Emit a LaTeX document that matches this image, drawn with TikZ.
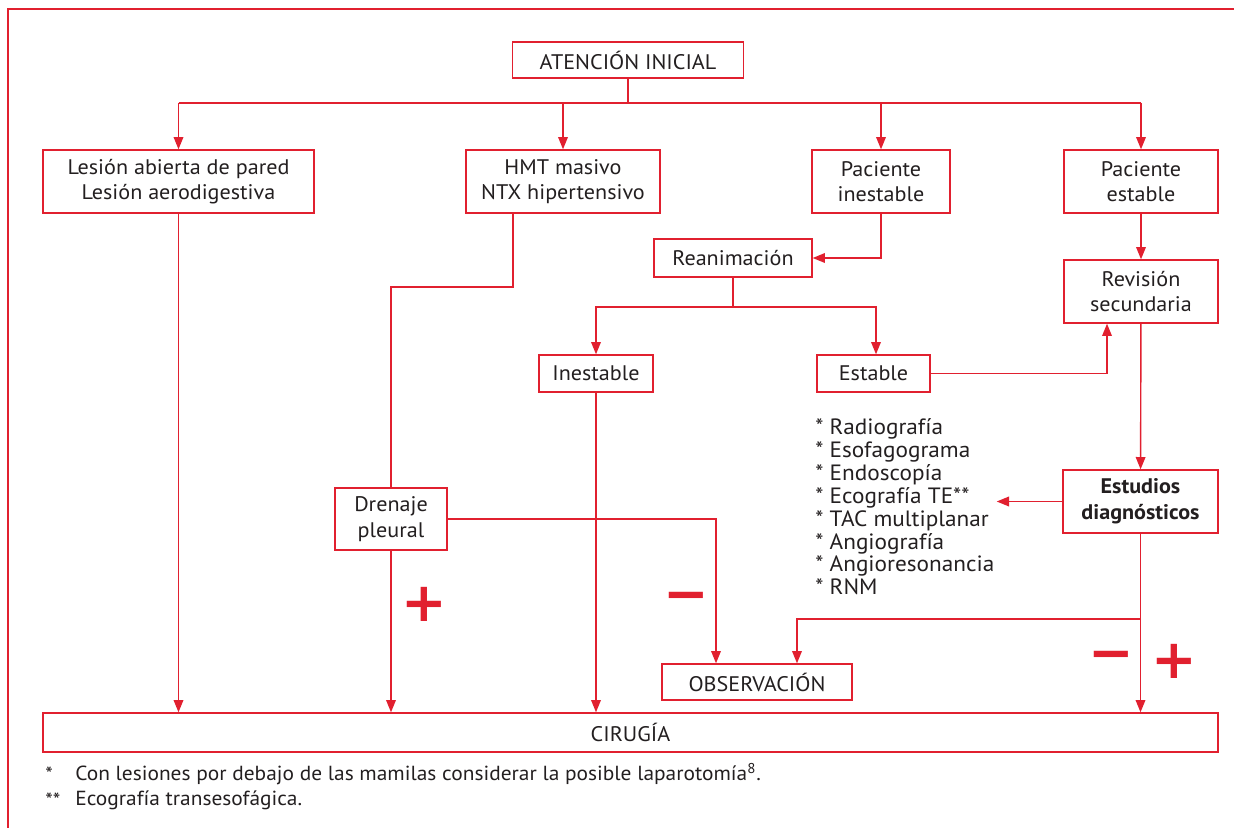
\documentclass[tikz,border=0pt]{standalone}
\usepackage{fontspec}
\setmainfont[FakeStretch=1.05]{PT Sans}
\newfontfamily\signfont{DejaVu Sans}
\newfontfamily\notefont[FakeStretch=1.05]{PT Sans}
\usepackage{tikz}
\usetikzlibrary{arrows.meta,positioning}
\definecolor{rojo}{HTML}{E1202F}
\definecolor{tinta}{HTML}{231F20}
\tikzset{
  caja/.style={
    rectangle, draw=rojo, line width=0.8pt, fill=white,
    minimum width=#1, font=\fontsize{12}{14.6}\selectfont, text=tinta,
    align=center, inner sep=2pt
  },
  caja/.default=3cm,
  alta/.style={minimum height=1.26cm},
  baja/.style={minimum height=0.74cm},
  linea/.style={draw=rojo, line width=0.8pt},
  flecha/.style={linea, -{Triangle[length=7pt,width=5.5pt]}},
  signo/.style={text=rojo, font=\signfont\bfseries\fontsize{31}{31}\selectfont,
    inner sep=0pt},
  lista/.style={text=tinta, font=\fontsize{12.6}{13}\selectfont, align=left,
    inner sep=0pt},
  nota/.style={text=tinta, font=\notefont\fontsize{11.6}{13}\selectfont,
    inner sep=0pt, anchor=west},
}

\begin{document}
\begin{tikzpicture}[x=0.02cm, y=-0.02cm]
  \useasboundingbox (0,0) rectangle (1234,828);
  % marco
  \draw[linea] (8,828) -- (8,9) -- (1234,9);

  % nodos
  \node[caja=4.62cm, minimum height=0.72cm] (inicio) at (628,60) {ATENCIÓN INICIAL};
  \node[caja=5.42cm, alta] (lesion) at (178.5,181.5) {Lesión abierta de pared\\Lesión aerodigestiva};
  \node[caja=3.88cm, alta] (hmt) at (563,181.5) {HMT masivo\\NTX hipertensivo};
  \node[caja=2.76cm, alta] (pinest) at (881,181.5) {Paciente\\inestable};
  \node[caja=3.08cm, alta] (pest) at (1141,181.5) {Paciente\\estable};
  \node[caja=3.16cm, minimum height=0.76cm] (reanim) at (733,258) {Reanimación};
  \node[caja=3.08cm, alta] (revision) at (1141,291.5) {Revisión\\secundaria};
  \node[caja=2.28cm, baja] (inest) at (596,373.5) {Inestable};
  \node[caja=2.26cm, baja] (est) at (873.5,373.5) {Estable};
  \node[caja=3.1cm, alta, font=\fontsize{12}{14.6}\selectfont\bfseries] (estudios) at (1140.5,501.5) {Estudios\\diagnósticos};
  \node[caja=2.24cm, minimum height=1.24cm] (drenaje) at (391,519) {Drenaje\\pleural};
  \node[caja=3.8cm, minimum height=0.72cm] (observ) at (757,682) {OBSERVACIÓN};
  \node[caja=23.5cm, minimum height=0.78cm] (cirugia) at (630.5,732.5) {CIRUGÍA};

  \node[lista, anchor=west] (examenes) at (815,507) {%
    * Radiografía\\* Esofagograma\\* Endoscopía\\* Ecografía TE**\\%
    * TAC multiplanar\\* Angiografía\\* Angioresonancia\\* RNM};

  % uniones
  \coordinate (r0) at (628,103);
  \coordinate (r1) at (733,307);
  \coordinate (r2) at (1141,619);
  \coordinate (r3) at (391,287);

  % conectores
  \draw[linea] (inicio.south) -- (r0);
  \draw[linea] (lesion.north |- r0) -- (pest.north |- r0);
  \foreach \n in {lesion,hmt,pinest,pest}
    \draw[flecha] (\n.north |- r0) -- (\n.north);
  \draw[flecha] (pinest.south) |- (reanim.east);
  \draw[linea] (reanim.south) -- (r1);
  \draw[flecha] (r1) -| (inest.north);
  \draw[flecha] (r1) -| ([xshift=0.05cm]est.north);
  \draw[flecha] (pest) -- (revision);
  \draw[flecha] (est.east) -| ([xshift=-0.68cm]revision.south);
  \draw[flecha] (revision) -- (estudios);
  \draw[flecha] (estudios.west) -- ([xshift=0.04cm]estudios.west -| examenes.east);
  \draw[flecha] (estudios.south) -- (estudios.south |- cirugia.north);
  \draw[flecha] (r2) -| ([xshift=0.8cm]observ.north);
  \draw[linea] ([xshift=-1cm]hmt.south) |- (r3) -- (drenaje.north);
  \draw[flecha] (drenaje.east) -| ([xshift=-0.82cm]observ.north);
  \draw[flecha] (lesion.south) -- (lesion.south |- cirugia.north);
  \draw[flecha] (drenaje.south) -- (drenaje.south |- cirugia.north);
  \draw[flecha] (inest.south) -- (inest.south |- cirugia.north);

  % signos
  \node[signo] (mas1) at (424,604) {+};
  \node[signo] (menos1) at (686,602) {−};
  \node[signo] (menos2) at (1111,661) {−};
  \node[signo] (mas2) at (1174,661) {+};

  % notas
  \node[nota] (ast1) at (45,774) {*};
  \node[nota] (nota1) at (75,774) {Con lesiones por debajo de las mamilas considerar la posible laparotomía\textsuperscript{8}.};
  \node[nota] (ast2) at (45,800) {**};
  \node[nota] (nota2) at (75,800) {Ecografía transesofágica.};
\end{tikzpicture}
\end{document}
